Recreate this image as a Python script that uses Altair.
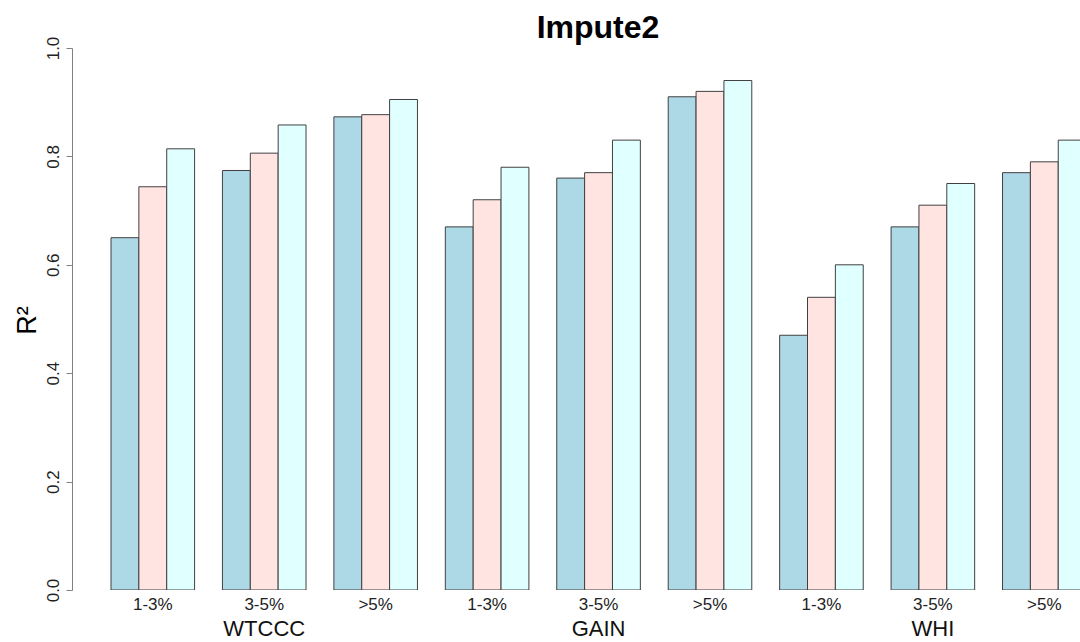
import altair as alt
import pandas as pd

# ---- data ----
datasets = ["WTCCC", "GAIN", "WHI"]
maf_bins = ["1-3%", "3-5%", ">5%"]
series_names = ["method1", "method2", "method3"]
series_colors = ["#ADD8E6", "#FFE4E1", "#E0FFFF"]
method1 = [0.650, 0.774, 0.873, 0.670, 0.760, 0.910, 0.470, 0.670, 0.770]
method2 = [0.744, 0.806, 0.877, 0.720, 0.770, 0.920, 0.540, 0.710, 0.790]
method3 = [0.814, 0.858, 0.905, 0.780, 0.830, 0.940, 0.600, 0.750, 0.830]
y_ticks = [0.0, 0.2, 0.4, 0.6, 0.8, 1.0]

FONT = "Liberation Sans"

# ---- tables built from the arrays (R barplot layout: 3 bars + 1 space per group) ----
rows = []
for g in range(len(method1)):
    for s, vals in enumerate([method1, method2, method3]):
        pos = g * 4 + s + 1
        rows.append({"group": g, "dataset": datasets[g // 3], "bin": maf_bins[g % 3],
                     "series": series_names[s], "x0": pos, "x1": pos + 1, "value": vals[g]})
bars_df = pd.DataFrame(rows)

bin_df = pd.DataFrame([{"xc": g * 4 + 2.5, "label": maf_bins[g % 3]} for g in range(len(method1))])
ds_df = pd.DataFrame([{"xc": (3 * d + 1) * 4 + 2.5, "label": name} for d, name in enumerate(datasets)])

UNIT = 27.86
PLOT_W = 1008
x_scale = alt.Scale(domain=[-0.4, -0.4 + PLOT_W / UNIT], nice=False, zero=False)
y_scale = alt.Scale(domain=[0, 1], nice=False)

bars = alt.Chart(bars_df).mark_bar(clip=True, stroke="#404040", strokeWidth=1).encode(
    x=alt.X("x0:Q", scale=x_scale, axis=None),
    x2="x1:Q",
    y=alt.Y("value:Q", scale=y_scale,
            axis=alt.Axis(values=y_ticks, format=".1f", grid=False,
                          domainColor="#808080", tickColor="#808080", tickSize=6,
                          labelAngle=270, labelAlign="center", labelBaseline="bottom",
                          labelPadding=4, labelFont=FONT, labelFontSize=17, labelColor="#222222",
                          title="R²", titleFont=FONT, titleFontSize=27, titleFontWeight="normal",
                          titleColor="#000000", titleAngle=270, titleAlign="center",
                          titleBaseline="middle", titleX=-45, titleY=272)),
    y2=alt.datum(0),
    color=alt.Color("series:N", scale=alt.Scale(domain=series_names, range=series_colors), legend=None),
)

bin_labels = alt.Chart(bin_df).mark_text(font=FONT, fontSize=17, color="#222222", baseline="middle").encode(
    x=alt.X("xc:Q", scale=x_scale, axis=None),
    y=alt.value(557),
    text="label:N",
)

ds_labels = alt.Chart(ds_df).mark_text(font=FONT, fontSize=22, color="#111111", baseline="middle").encode(
    x=alt.X("xc:Q", scale=x_scale, axis=None),
    y=alt.value(581),
    text="label:N",
)

chart = alt.layer(bars, bin_labels, ds_labels).properties(
    width=PLOT_W,
    height=542,
    title=alt.TitleParams("Impute2", font=FONT, fontSize=32, fontWeight="bold", color="#000000",
                          anchor="middle", frame="group", dx=22, baseline="alphabetic", offset=-34),
    autosize=alt.AutoSizeParams(type="none"),
    padding={"left": 72, "top": 48, "right": 0, "bottom": 52},
    background="white",
).configure_view(stroke=None)

chart.save("out.html", embed_options={"renderer": "svg", "actions": False})
